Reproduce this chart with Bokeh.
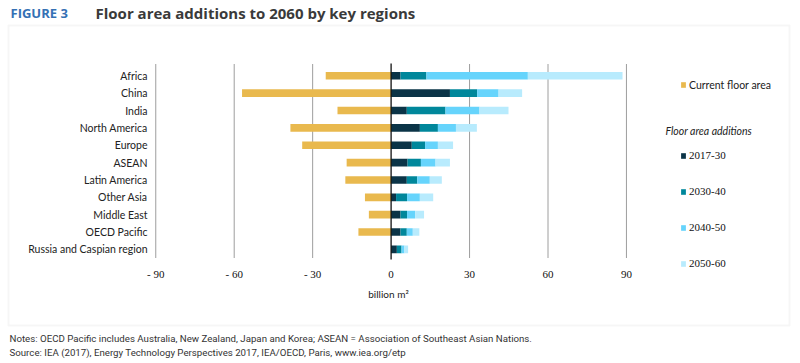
from bokeh.plotting import figure
from bokeh.models import (Range1d, Label, Legend, LegendItem, BoxAnnotation,
                          ColumnDataSource)
from bokeh.core.properties import value
from bokeh.embed import file_html
from bokeh.resources import INLINE

# ---------------- data ----------------
regions = ["Africa", "China", "India", "North America", "Europe", "ASEAN",
           "Latin America", "Other Asia", "Middle East", "OECD Pacific",
           "Russia and Caspian region"]
current_floor_area = [25, 57, 20.5, 38.5, 34, 17, 17.5, 10, 8.5, 12.5, 0]
add_2017_30 = [3.6, 22.5, 6.0, 11.0, 7.9, 6.3, 6.0, 1.9, 3.6, 3.6, 2.2]
add_2030_40 = [9.9, 10.4, 14.8, 6.9, 5.1, 5.1, 4.0, 4.2, 2.5, 2.4, 1.8]
add_2040_50 = [38.8, 8.2, 13.0, 6.9, 4.9, 5.6, 4.8, 4.9, 3.1, 2.3, 1.1]
add_2050_60 = [36.2, 9.0, 11.1, 8.0, 5.8, 5.5, 4.6, 5.1, 3.4, 2.5, 1.4]
period_labels = ["2017-30", "2030-40", "2040-50", "2050-60"]
tick_values = [-90, -60, -30, 0, 30, 60, 90]
tick_labels = ["- 90", "- 60", "- 30", "0", "30", "60", "90"]

# ---------------- styles / layout ----------------
W, H = 800, 363
YELLOW = "#E9B94E"
PERIOD_COLORS = ["#0B3447", "#00879B", "#66D4FC", "#B8EBFD"]
SANS = "Lato"
SERIF = "Liberation Serif"
TXT = "#222222"

X0_PX, PX_PER_UNIT = 390.6, 2.615      # where 0 sits, horizontal scale
ROW0_PX, ROW_PX = 75.3, 17.36          # first row centre, row pitch

def xd(px):  # page x pixel -> data x
    return (px - X0_PX) / PX_PER_UNIT

def yd(py):  # page y pixel -> row coordinate
    return (py - ROW0_PX) / ROW_PX

source = ColumnDataSource(dict(
    region=regions,
    pos=list(range(len(regions))),
    current_left=[-v for v in current_floor_area],
    **{period_labels[0]: add_2017_30,
       period_labels[1]: add_2030_40,
       period_labels[2]: add_2040_50,
       period_labels[3]: add_2050_60},
))

p = figure(width=W, height=H,
           x_range=Range1d(xd(0), xd(W)),
           y_range=Range1d(yd(H), yd(0)),
           x_axis_type=None, y_axis_type=None,
           output_backend="svg", toolbar_location=None,
           min_border=0)
p.outline_line_color = None
p.grid.visible = False
p.background_fill_color = "white"
p.border_fill_color = "white"

# border box of the figure panel
p.add_layout(BoxAnnotation(left=8, right=789, top=H - 25, bottom=H - 325,
                           left_units="screen", right_units="screen",
                           top_units="screen", bottom_units="screen",
                           fill_alpha=0, line_color="#e2e2e2", line_width=2))

# dotted grid lines and solid zero line
grid_ticks = [t for t in tick_values if t != 0]
p.segment(x0=grid_ticks, x1=grid_ticks, y0=[yd(64)] * len(grid_ticks),
          y1=[yd(258)] * len(grid_ticks), line_color="#3c3c3c",
          line_dash="1 1", line_width=1)

# bars
cur_r = p.hbar(y="pos", left="current_left", right=0, height=0.44,
               fill_color=YELLOW, line_color=None, source=source)
stack_r = p.hbar_stack(period_labels, y="pos", height=0.44,
                       fill_color=PERIOD_COLORS, line_color=None, source=source)
p.segment(x0=[0], x1=[0], y0=[yd(63)], y1=[yd(259)], line_color="#111111",
          line_width=1.3)

# category labels
p.text(x=xd(147), y="pos", text="region", source=source,
       text_align="right", text_baseline="middle",
       text_font=value(SANS), text_font_size="10.5px", text_color=TXT)

# x tick labels
p.text(x=tick_values, y=[yd(273.5)] * len(tick_values), text=tick_labels,
       text_align="center", text_baseline="middle",
       text_font=value(SERIF), text_font_size="11px", text_color="#111111")

def add_label(text, px, py, font=SANS, size="10.5px", color=TXT,
              style="normal", align="left"):
    p.add_layout(Label(x=px, y=H - py, x_units="screen", y_units="screen",
                       text=text, text_font=font, text_font_size=size,
                       text_color=color, text_font_style=style,
                       text_align=align, text_baseline="middle"))

add_label("FIGURE 3", 10, 12, font="Open Sans", size="13px", color="#3470B4",
          style="bold")
add_label("Floor area additions to 2060 by key regions", 95, 12,
          font="Open Sans", size="15px", color="#3a3a3a", style="bold")
add_label("billion m\u00b2", 388, 293, size="10px", align="center")
add_label("Floor area additions", 665, 130, style="italic", size="10.5px")
add_label("Notes: OECD Pacific includes Australia, New Zealand, Japan and Korea; "
          "ASEAN = Association of Southeast Asian Nations.", 9, 337.5,
          font="Roboto", size="9.7px", color="#333333")
add_label("Source: IEA (2017), Energy Technology Perspectives 2017, IEA/OECD, "
          "Paris, www.iea.org/etp", 9, 351.5, font="Roboto", size="9.7px",
          color="#333333")

# legends
ITEM_H = 13
common = dict(padding=0, margin=0, border_line_color=None,
              background_fill_alpha=0, glyph_width=6, glyph_height=7,
              label_standoff=3, label_height=ITEM_H)
legA = Legend(items=[LegendItem(label="Current floor area", renderers=[cur_r])],
              location=(680, H - (84.5 + ITEM_H / 2)), spacing=0,
              label_text_font=SANS, label_text_font_size="10.5px",
              label_text_color=TXT, **common)
legB = Legend(items=[LegendItem(label=lab, renderers=[r])
                     for lab, r in zip(period_labels, stack_r)],
              location=(680, H - (263.3 + ITEM_H / 2)), spacing=23,
              label_text_font=SERIF, label_text_font_size="11px",
              label_text_color="#111111", **common)
p.add_layout(legA)
p.add_layout(legB)

open("out.html", "w").write(file_html(p, INLINE))
